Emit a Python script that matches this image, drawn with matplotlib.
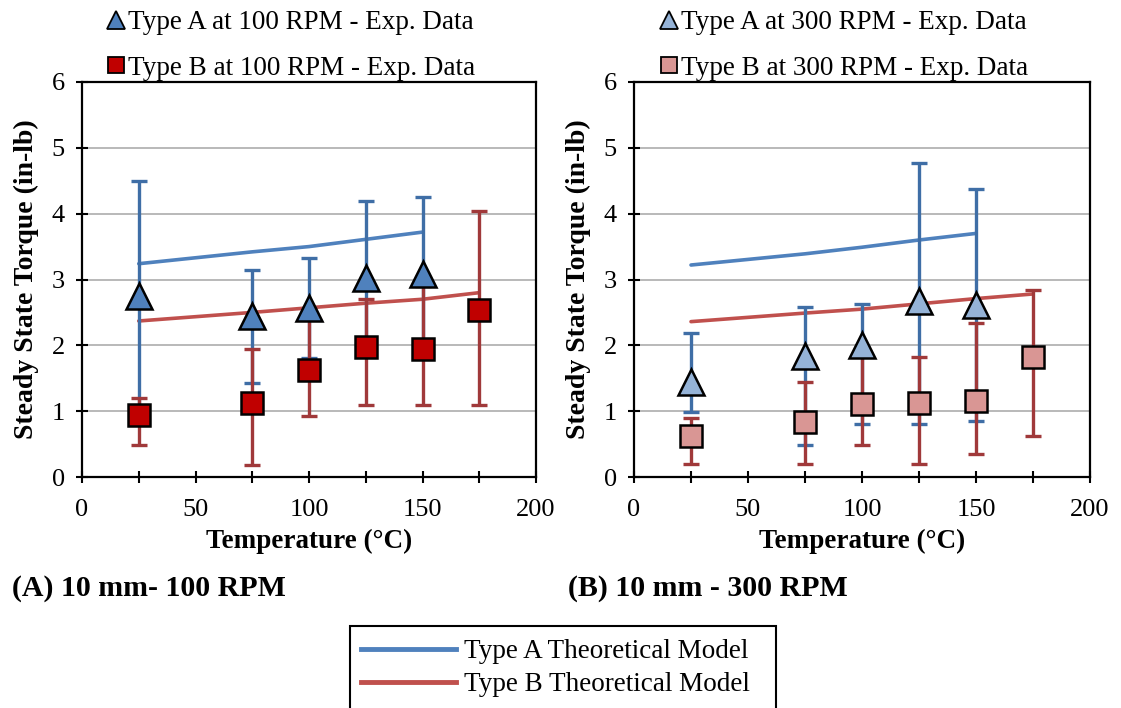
import matplotlib
matplotlib.use("Agg")
import matplotlib.pyplot as plt
from matplotlib.lines import Line2D
from matplotlib.patches import Rectangle
from matplotlib.ticker import MultipleLocator

plt.rcParams['font.family'] = ['Liberation Serif', 'DejaVu Serif']

# ---- data ----
temps = [25, 75, 100, 125, 150]
temps_b = [25, 75, 100, 125, 150, 175]

# (A) 100 RPM
a100 = [2.75, 2.44, 2.57, 3.03, 3.09]
a100_hi = [4.50, 3.14, 3.33, 4.19, 4.25]
a100_lo = [1.00, 1.43, 1.81, 1.87, 1.93]
b100 = [0.94, 1.13, 1.62, 1.98, 1.94, 2.54]
b100_hi = [1.20, 1.94, 2.40, 2.70, 2.90, 4.04]
b100_lo = [0.49, 0.18, 0.93, 1.10, 1.10, 1.10]

# (B) 300 RPM
a300 = [1.45, 1.84, 2.01, 2.67, 2.62]
a300_hi = [2.18, 2.58, 2.63, 4.77, 4.38]
a300_lo = [0.99, 0.49, 0.80, 0.80, 0.85]
b300 = [0.62, 0.84, 1.11, 1.13, 1.15, 1.83]
b300_hi = [0.89, 1.45, 1.85, 1.83, 2.34, 2.84]
b300_lo = [0.19, 0.19, 0.49, 0.19, 0.35, 0.62]

# theoretical model
model_a_100 = [3.24, 3.42, 3.50, 3.61, 3.72]
model_b_100 = [2.37, 2.50, 2.57, 2.64, 2.70, 2.80]
model_a_300 = [3.22, 3.39, 3.49, 3.60, 3.70]
model_b_300 = [2.36, 2.49, 2.55, 2.63, 2.71, 2.78]

W, H = 1121, 708
fig = plt.figure(figsize=(W / 100, H / 100), dpi=100)


def px_axes(x0, y0, x1, y1):
    return fig.add_axes([x0 / W, 1 - y1 / H, (x1 - x0) / W, (y1 - y0) / H])


blue_line = '#4F81BD'
red_line = '#C0504D'
blue_err = '#3F6EA6'
red_err = '#A0393A'


def panel(ax, a, a_hi, a_lo, b, b_hi, b_lo, ma, mb, fa, fb):
    ax.plot(temps, ma, color=blue_line, lw=2.6, zorder=2, solid_capstyle='round')
    ax.plot(temps_b, mb, color=red_line, lw=2.6, zorder=2, solid_capstyle='round')
    ax.errorbar(temps, a, yerr=[[v - l for v, l in zip(a, a_lo)], [h - v for v, h in zip(a, a_hi)]],
                fmt='none', ecolor=blue_err, elinewidth=2.4, capsize=5.5, capthick=2.4, zorder=3)
    ax.errorbar(temps_b, b, yerr=[[v - l for v, l in zip(b, b_lo)], [h - v for v, h in zip(b, b_hi)]],
                fmt='none', ecolor=red_err, elinewidth=2.4, capsize=5.5, capthick=2.4, zorder=4)
    ax.plot(temps, a, ls='none', marker='^', ms=18.5, mfc=fa, mec='black', mew=1.8, zorder=5)
    ax.plot(temps_b, b, ls='none', marker='s', ms=16, mfc=fb, mec='black', mew=1.8, zorder=6)

    ax.set_xlim(0, 200)
    ax.set_ylim(0, 6)
    ax.xaxis.set_major_locator(MultipleLocator(50))
    ax.xaxis.set_minor_locator(MultipleLocator(25))
    ax.yaxis.set_major_locator(MultipleLocator(1))
    ax.tick_params(which='both', direction='inout', length=9, width=1.5, labelsize=19,
                   top=False, right=False)
    ax.tick_params(axis='x', pad=11)
    ax.tick_params(axis='y', pad=8)
    ax.grid(axis='y', color='#A6A6A6', lw=1.1, zorder=0)
    ax.set_axisbelow(True)
    for s in ax.spines.values():
        s.set_linewidth(1.6)
        s.set_color('black')
    ax.set_xlabel('Temperature (\u00b0C)', fontsize=19.5, fontweight='bold', labelpad=6)
    ax.set_ylabel('Steady State Torque (in-lb)', fontsize=20, fontweight='bold', labelpad=9)


ax1 = px_axes(82, 82, 536, 477)
ax2 = px_axes(634, 82, 1090, 477)

panel(ax1, a100, a100_hi, a100_lo, b100, b100_hi, b100_lo, model_a_100, model_b_100,
      '#4F81BD', '#C00000')
panel(ax2, a300, a300_hi, a300_lo, b300, b300_hi, b300_lo, model_a_300, model_b_300,
      '#95B3D7', '#D99694')

# top legends (marker only entries)
for x0, rpm, fa, fb in [(100, 100, '#4F81BD', '#C00000'), (653, 300, '#95B3D7', '#D99694')]:
    hs = [Line2D([], [], ls='none', marker='^', ms=13, mfc=fa, mec='black', mew=1.3),
          Line2D([], [], ls='none', marker='s', ms=12, mfc=fb, mec='black', mew=1.3)]
    labs = ['Type A at %d RPM - Exp. Data' % rpm, 'Type B at %d RPM - Exp. Data' % rpm]
    fig.legend(hs, labs, loc='upper left', bbox_to_anchor=(x0 / W, 1 - 5 / H),
               frameon=False, fontsize=19.5, handlelength=0.75, handletextpad=0.1,
               labelspacing=0.75, borderpad=0.2, borderaxespad=0)

fig.text(12 / W, 1 - 588 / H, '(A) 10 mm- 100 RPM', fontsize=21.5, fontweight='bold', va='center')
fig.text(568 / W, 1 - 588 / H, '(B) 10 mm - 300 RPM', fontsize=21.5, fontweight='bold', va='center')

# bottom legend box, cut off at the figure edge like the reference
fig.patches.append(Rectangle((350 / W, -0.05), 426 / W, 0.05 + 1 - 626 / H,
                             transform=fig.transFigure, fill=False, ec='black', lw=1.5))
mh = [Line2D([], [], color=blue_line, lw=3.5), Line2D([], [], color=red_line, lw=3.5)]
fig.legend(mh, ['Type A Theoretical Model', 'Type B Theoretical Model'], loc='upper left',
           bbox_to_anchor=(361 / W, 1 - 639 / H), frameon=False, fontsize=19.5,
           handlelength=3.5, handletextpad=0.3, labelspacing=0.3, borderpad=0, borderaxespad=0)

fig.savefig('out.png', dpi=100)
